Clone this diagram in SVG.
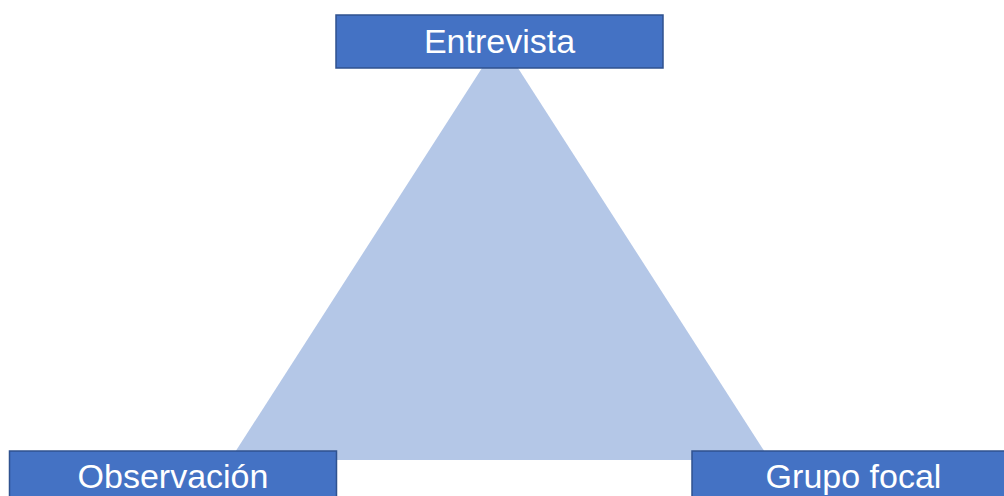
<svg xmlns="http://www.w3.org/2000/svg" width="1004" height="496" viewBox="0 0 1004 496">
  <style>
    .box { fill: #4472C4; stroke: #2F528F; stroke-width: 1.5; }
    .lbl { fill: #FFFFFF; font-family: "Liberation Sans", Arial, sans-serif; font-size: 34px; text-anchor: middle; }
  </style>
  <rect width="1004" height="496" fill="#FFFFFF"/>
  <g id="connectors">
    <polygon points="500,40 770,460 230,460" fill="#B4C7E7"/>
  </g>
  <g id="entrevista">
    <rect class="box" x="336" y="15" width="327" height="53"/>
    <text class="lbl" x="499.5" y="53">Entrevista</text>
  </g>
  <g id="observacion">
    <rect class="box" x="9.5" y="451" width="327" height="53"/>
    <text class="lbl" x="173" y="488">Observación</text>
  </g>
  <g id="grupo-focal">
    <rect class="box" x="692" y="451" width="327" height="53"/>
    <text class="lbl" x="853.5" y="488">Grupo focal</text>
  </g>
</svg>
